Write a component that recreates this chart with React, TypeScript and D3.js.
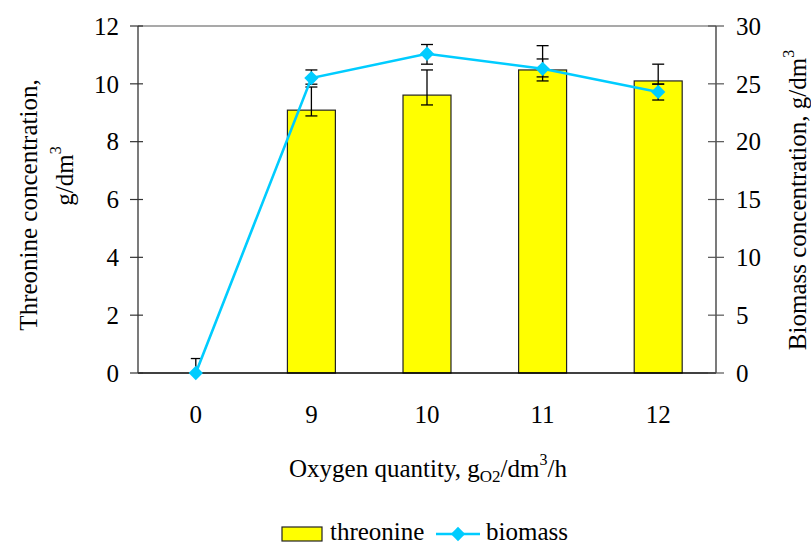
import React, { useRef, useEffect } from 'react';
import * as d3 from 'd3';

const categories = ['0', '9', '10', '11', '12'];
const threonine = [0, 9.09, 9.61, 10.48, 10.1];
const threonineLow = [0, 8.89, 9.27, 10.1, 9.99];
const threonineHigh = [0.5, 9.89, 10.48, 10.86, 10.68];
const biomass = [0, 25.5, 27.6, 26.3, 24.3];
const biomassLow = [0, 24.97, 26.7, 25.6, 23.6];
const biomassHigh = [0, 26.2, 28.4, 28.3, 24.98];
const leftTicks = [0, 2, 4, 6, 8, 10, 12];
const rightTicks = [0, 5, 10, 15, 20, 25, 30];

const FONT = '"Liberation Serif", "Times New Roman", serif';
const FS = '25px';

const App = () => {
  const svgRef = useRef<SVGSVGElement>(null);

  useEffect(() => {
    const svg = d3.select(svgRef.current);
    svg.selectAll('*').remove();

    const width = 811;
    const height = 544;
    const margin = { top: 26, right: 95, bottom: 171, left: 138 };
    const innerW = width - margin.left - margin.right;
    const innerH = height - margin.top - margin.bottom;

    const x = d3.scaleBand().domain(categories).range([0, innerW]).paddingInner(0.585).paddingOuter(0.2925);
    const xc = (c: string) => (x(c) as number) + x.bandwidth() / 2;
    const yL = d3.scaleLinear().domain([0, 12]).range([innerH, 0]);
    const yR = d3.scaleLinear().domain([0, 30]).range([innerH, 0]);

    const g = svg.append('g').attr('transform', `translate(${margin.left},${margin.top})`);

    // frame: top gray, bottom black
    g.append('line').attr('x1', 0).attr('x2', innerW).attr('y1', 0).attr('y2', 0)
      .style('stroke', '#8c8c8c').style('stroke-width', 1.5);

    // bars
    g.selectAll('rect.bar').data(categories).enter().append('rect')
      .attr('class', 'bar')
      .attr('x', (d) => x(d) as number)
      .attr('width', x.bandwidth())
      .attr('y', (d, i) => yL(threonine[i]))
      .attr('height', (d, i) => innerH - yL(threonine[i]))
      .style('fill', '#ffff00')
      .style('stroke', '#222')
      .style('stroke-width', 1.2);

    g.append('line').attr('x1', 0).attr('x2', innerW).attr('y1', innerH).attr('y2', innerH)
      .style('stroke', '#000').style('stroke-width', 1.3);

    // error bars
    const errBar = (lo: number[], hi: number[], scale: d3.ScaleLinear<number, number>) => {
      categories.forEach((c, i) => {
        if (lo[i] === hi[i]) return;
        const cx = xc(c);
        const cap = i === 0 ? 5 : 6;
        g.append('line').attr('x1', cx).attr('x2', cx).attr('y1', scale(lo[i])).attr('y2', scale(hi[i]))
          .style('stroke', '#000').style('stroke-width', 1.3);
        [lo[i], hi[i]].forEach((v) => {
          if (i === 0 && v === 0) return;
          g.append('line').attr('x1', cx - cap).attr('x2', cx + cap).attr('y1', scale(v)).attr('y2', scale(v))
            .style('stroke', '#000').style('stroke-width', 1.3);
        });
      });
    };
    errBar(threonineLow, threonineHigh, yL);
    errBar(biomassLow, biomassHigh, yR);

    // biomass line
    const line = d3.line<number>().x((d, i) => xc(categories[i])).y((d) => yR(d));
    g.append('path').datum(biomass).attr('d', line)
      .style('fill', 'none').style('stroke', '#00ccff').style('stroke-width', 2.6);

    const diamond = d3.symbol().type(d3.symbolDiamond2).size(130);
    g.selectAll('path.pt').data(biomass).enter().append('path')
      .attr('class', 'pt')
      .attr('d', diamond)
      .attr('transform', (d, i) => `translate(${xc(categories[i])},${yR(d)})`)
      .style('fill', '#00ccff');

    // left axis
    g.append('line').attr('x1', 0).attr('x2', 0).attr('y1', 0).attr('y2', innerH)
      .style('stroke', '#333').style('stroke-width', 1.3);
    leftTicks.forEach((t) => {
      g.append('line').attr('x1', -8).attr('x2', 5).attr('y1', yL(t)).attr('y2', yL(t))
        .style('stroke', '#333').style('stroke-width', 1.2);
      g.append('text').attr('x', -19).attr('y', yL(t)).attr('dy', '0.35em')
        .attr('text-anchor', 'end').style('font-family', FONT).style('font-size', FS)
        .text(t);
    });

    // right axis
    g.append('line').attr('x1', innerW).attr('x2', innerW).attr('y1', 0).attr('y2', innerH)
      .style('stroke', '#333').style('stroke-width', 1.3);
    rightTicks.forEach((t) => {
      g.append('text').attr('x', innerW + 20).attr('y', yR(t)).attr('dy', '0.35em')
        .attr('text-anchor', 'start').style('font-family', FONT).style('font-size', FS)
        .text(t);
      g.append('line').attr('x1', innerW - 8).attr('x2', innerW + 8).attr('y1', yR(t)).attr('y2', yR(t))
        .style('stroke', '#555').style('stroke-width', 1.2);
    });

    // x labels
    categories.forEach((c) => {
      g.append('text').attr('x', xc(c)).attr('y', innerH + 50)
        .attr('text-anchor', 'middle').style('font-family', FONT).style('font-size', FS)
        .text(c);
    });

    // axis titles
    const lt = svg.append('text').attr('transform', 'translate(37,205) rotate(-90)')
      .attr('text-anchor', 'middle').style('font-family', FONT).style('font-size', FS);
    lt.append('tspan').text('Threonine concentration,');
    const lt2 = svg.append('text').attr('transform', 'translate(73,176) rotate(-90)')
      .attr('text-anchor', 'middle').style('font-family', FONT).style('font-size', FS);
    lt2.append('tspan').text('g/dm');
    lt2.append('tspan').attr('dy', -12).style('font-size', '16px').text('3');

    const rt = svg.append('text').attr('transform', 'translate(806,200) rotate(-90)')
      .attr('text-anchor', 'middle').style('font-family', FONT).style('font-size', FS);
    rt.append('tspan').text('Biomass concentration, g/dm');
    rt.append('tspan').attr('dy', -12).style('font-size', '16px').text('3');

    const xt = svg.append('text').attr('x', 428).attr('y', 477)
      .attr('text-anchor', 'middle').style('font-family', FONT).style('font-size', FS);
    xt.append('tspan').text('Oxygen quantity, g');
    xt.append('tspan').attr('dy', 5).style('font-size', '17px').text('O2');
    xt.append('tspan').attr('dy', -5).text('/dm');
    xt.append('tspan').attr('dy', -12).style('font-size', '16px').text('3');
    xt.append('tspan').attr('dy', 12).text('/h');

    // legend
    const lg = svg.append('g');
    lg.append('rect').attr('x', 282).attr('y', 527).attr('width', 40).attr('height', 14)
      .style('fill', '#ffff00').style('stroke', '#222').style('stroke-width', 1.2);
    lg.append('text').attr('x', 330).attr('y', 540).style('font-family', FONT).style('font-size', FS)
      .text('threonine');
    lg.append('line').attr('x1', 436).attr('x2', 480).attr('y1', 534).attr('y2', 534)
      .style('stroke', '#00ccff').style('stroke-width', 2.6);
    lg.append('path').attr('d', diamond).attr('transform', 'translate(458,534)').style('fill', '#00ccff');
    lg.append('text').attr('x', 486).attr('y', 540).style('font-family', FONT).style('font-size', FS)
      .text('biomass');
  }, []);

  return <svg ref={svgRef} width={811} height={544} style={{ position: 'absolute', left: 0, top: 0 }} />;
};

export default App;
